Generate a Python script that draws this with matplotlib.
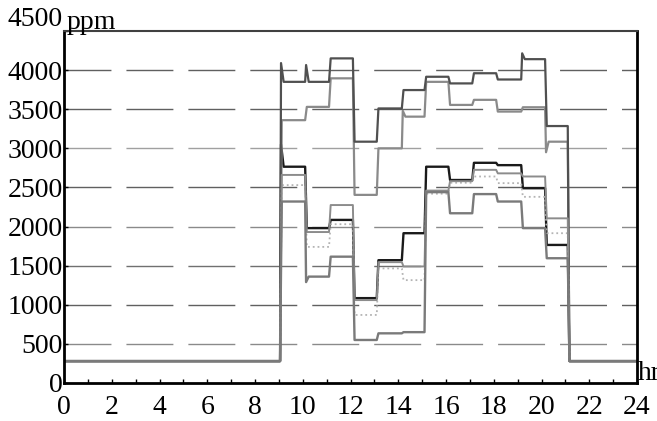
import numpy as np
import matplotlib.pyplot as plt

# hourly step profile: switch times (hr) and the level held after each switch
switch_hr = [9.05, 10.1, 11.1, 12.1, 13.1, 14.15, 15.1, 16.1, 17.1, 18.1, 19.15, 20.15, 21.1]
base_ppm = 280

upper_a = [3850, 3850, 4150, 3085, 3510, 3745, 3915, 3830, 3960, 3880, 4140, 3285]
upper_b = [3360, 3530, 3895, 2405, 3000, 3405, 3850, 3555, 3620, 3470, 3525, 3085]
lower_a = [2765, 1980, 2085, 1085, 1570, 1915, 2765, 2595, 2815, 2785, 2490, 1765]
lower_b = [2660, 1930, 2275, 1060, 1545, 1490, 2460, 2580, 2725, 2680, 2640, 2105]
lower_c = [2530, 1740, 2030, 870, 1465, 1315, 2420, 2560, 2640, 2555, 2380, 1915]
lower_d = [2320, 1360, 1615, 550, 635, 650, 2440, 2170, 2415, 2320, 1980, 1595]

# short transients right after a switch: {switch index: peak ppm}
spikes_upper_a = {0: 4090, 1: 4065, 10: 4215}
spikes_upper_b = {5: 3480, 11: 2950}
spikes_lower_a = {0: 3050}
spikes_lower_d = {1: 1290}

xticks = list(range(0, 25, 2))
yticks = list(range(0, 4501, 500))


def profile(levels, spikes={}):
    t = [0.0]
    v = [base_ppm]
    prev = base_ppm
    for i, sw in enumerate(switch_hr):
        new = levels[i] if i < len(levels) else base_ppm
        t.append(sw)
        v.append(prev)
        if i in spikes:
            t.append(sw + 0.04)
            v.append(spikes[i])
            t.append(sw + 0.15)
        else:
            t.append(sw + 0.07)
        v.append(new)
        prev = new
    t.append(24.0)
    v.append(prev)
    return np.array(t), np.array(v)


plt.rcParams['font.family'] = ['Liberation Serif', 'DejaVu Serif']

fig = plt.figure(figsize=(6.57, 4.21), dpi=100)
ax = fig.add_axes([64 / 657, 1 - 383 / 421, 573 / 657, 352 / 421])

grid_cols = ['#8a8a8a', '#606060', '#707070', '#8a8a8a', '#606060', '#a0a0a0', '#606060', '#606060']
for y, gc in zip(yticks[1:-1], grid_cols):
    ax.axhline(y, color=gc, lw=1.0, ls=(0, (33.8, 10.8)), zorder=1)

series = [
    (lower_a, spikes_lower_a, '#1a1a1a', 1.7, '-'),
    (upper_b, spikes_upper_b, '#8a8a8a', 1.6, '-'),
    (upper_a, spikes_upper_a, '#505050', 1.6, '-'),
    (lower_c, {}, '#b4b4b4', 1.3, ':'),
    (lower_b, {}, '#8c8c8c', 1.4, '-'),
    (lower_d, spikes_lower_d, '#7a7a7a', 1.7, '-'),
]
for levels, spk, col, lw, ls in series:
    t, v = profile(levels, spk)
    ax.plot(t, v, color=col, lw=lw, ls=ls, zorder=2)

ax.set_xlim(0, 24)
ax.set_ylim(0, 4500)
ax.set_xticks(xticks)
ax.set_xticks(range(25), minor=True)
ax.set_yticks(yticks)
# top value is written a little above the frame corner
ax.set_yticklabels([str(y) for y in yticks[:-1]] + [''])
ax.tick_params(axis='both', direction='in', labelsize=20, length=3, width=1)
ax.tick_params(axis='x', which='minor', direction='in', length=3, width=1)
ax.tick_params(axis='x', pad=9)
ax.tick_params(axis='y', pad=1)
ax.text(-0.002, 1.0 + 11 / 352, str(yticks[-1]), transform=ax.transAxes,
        fontsize=20, ha='right', va='center')

for side in ['left', 'bottom', 'right']:
    ax.spines[side].set_linewidth(2.0)
    ax.spines[side].set_color('black')
ax.spines['top'].set_linewidth(1.5)
ax.spines['top'].set_color('#404040')

ax.text(0.005, 1.006, 'ppm', transform=ax.transAxes, fontsize=20,
        ha='left', va='baseline')
ax.text(1.002, 0.008, 'hr', transform=ax.transAxes, fontsize=20,
        ha='left', va='baseline', clip_on=False)

fig.savefig('out.png', dpi=100)
